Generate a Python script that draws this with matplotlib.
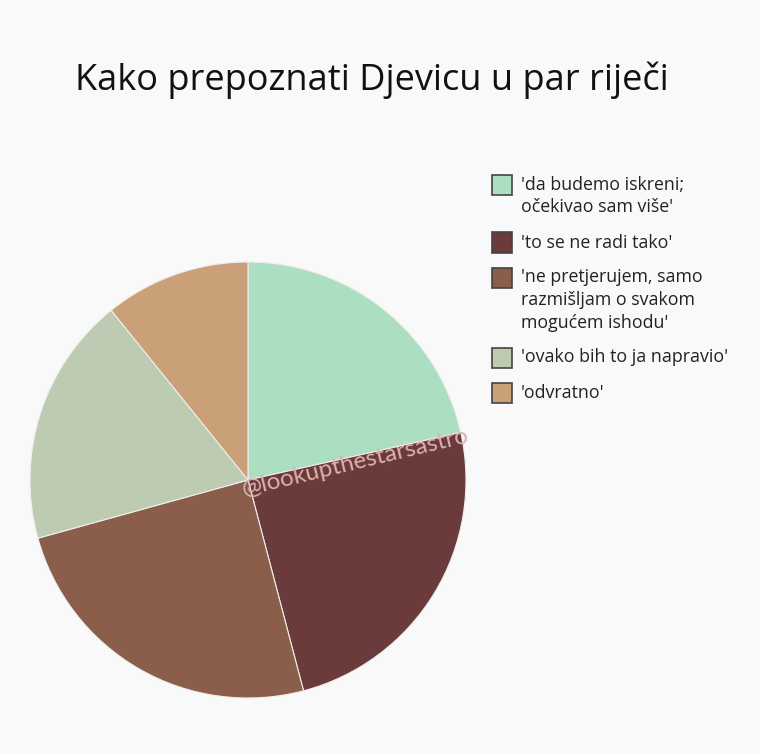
import matplotlib
matplotlib.use('Agg')
import matplotlib.pyplot as plt
from matplotlib.patches import Rectangle

title = 'Kako prepoznati Djevicu u par riječi'
labels = [
    "'da budemo iskreni;\nočekivao sam više'",
    "'to se ne radi tako'",
    "'ne pretjerujem, samo\nrazmišljam o svakom\nmogućem ishodu'",
    "'ovako bih to ja napravio'",
    "'odvratno'",
]
values = [21.5, 24.4, 24.8, 18.5, 10.8]
colors = ['#acdfc2', '#6b3a3a', '#8a5e4a', '#bccbb2', '#c9a077']
watermark = '@lookupthestarsastro'

bg = '#f9f9f9'
W, H = 760, 754
fig = plt.figure(figsize=(W / 100, H / 100), dpi=100, facecolor=bg)

# pie: centre (248, 480) px, radius 218 px
cx, cy, r = 248, 480, 218
ax = fig.add_axes([(cx - r) / W, (H - cy - r) / H, 2 * r / W, 2 * r / H])
ax.pie(values, colors=colors, startangle=90, counterclock=False, radius=1,
       wedgeprops=dict(edgecolor='#eeeeee', linewidth=0.8))
ax.set_xlim(-1, 1)
ax.set_ylim(-1, 1)
ax.set_aspect('auto')
ax.axis('off')

fig.text(372 / W, 1 - 80 / H, title, ha='center', va='center',
         fontsize=26, family='Open Sans', color='#111111')

# legend
y = 185
for lab, col in zip(labels, colors):
    fig.patches.append(Rectangle((492 / W, 1 - (y + 10) / H), 20 / W, 20 / H,
                                 transform=fig.transFigure, facecolor=col,
                                 edgecolor='#444444', linewidth=1.2))
    lines = lab.split('\n')
    for i, ln in enumerate(lines):
        fig.text(521 / W, 1 - (y + i * 22.5) / H, ln, ha='left', va='center',
                 fontsize=12.8, family='Open Sans', color='#222222')
    y += (len(lines) - 1) * 22.5 + 35

fig.text(355 / W, 1 - 463 / H, watermark, ha='center', va='center',
         rotation=13.5, fontsize=17.5, family='Lato', fontweight='normal',
         color='#dcb0ac')

fig.savefig('out.png', dpi=100, facecolor=bg)
